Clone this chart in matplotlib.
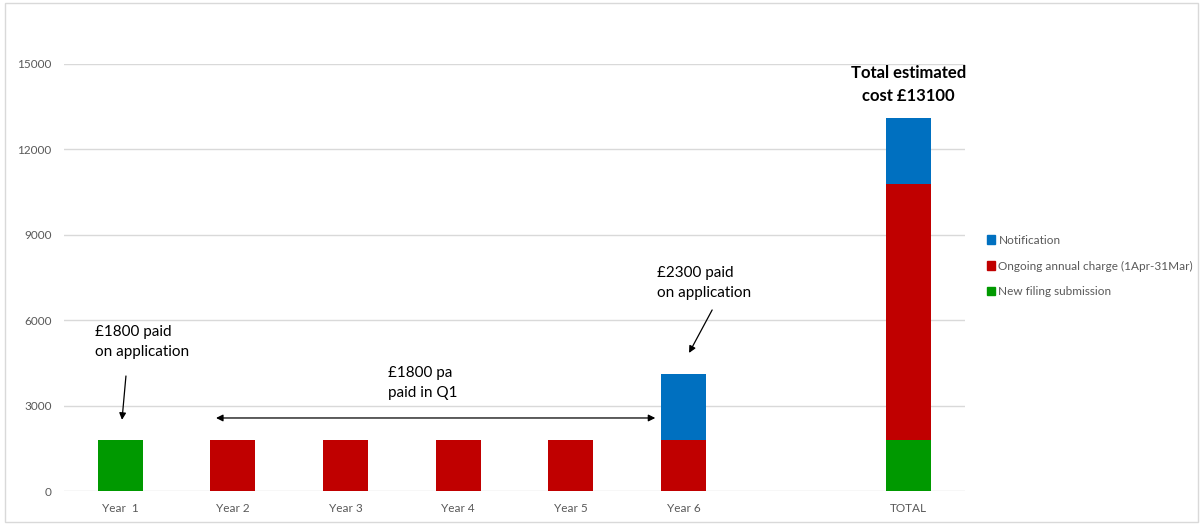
import matplotlib
matplotlib.use("Agg")
import matplotlib.pyplot as plt
from matplotlib.patches import Rectangle, Patch
import numpy as np

plt.rcParams['font.family'] = ['Lato', 'DejaVu Sans']

categories = ["Year  1", "Year 2", "Year 3", "Year 4", "Year 5", "Year 6", "", "TOTAL"]
new_filing = [1800, 0, 0, 0, 0, 0, 0, 1800]
ongoing = [0, 1800, 1800, 1800, 1800, 1800, 0, 9000]
notification = [0, 0, 0, 0, 0, 2300, 0, 2300]
yticks = [0, 3000, 6000, 9000, 12000, 15000]

c_green = "#009900"
c_red = "#C00000"
c_blue = "#0070C0"
grid_c = "#D9D9D9"
tick_c = "#595959"

fig = plt.figure(figsize=(12.03, 5.25), dpi=100)
ax = fig.add_axes([64/1203, 34/525, (965-64)/1203, (491-64)/525])

x = np.arange(len(categories))
nf = np.array(new_filing)
og = np.array(ongoing)
nt = np.array(notification)
w = 0.4
ax.bar(x, nf, w, color=c_green, zorder=3)
ax.bar(x, og, w, bottom=nf, color=c_red, zorder=3)
ax.bar(x, nt, w, bottom=nf + og, color=c_blue, zorder=3)

ax.set_xlim(-0.5, len(categories) - 0.5)
ax.set_ylim(0, 15000)
ax.set_yticks(yticks)
ax.set_yticklabels([str(v) for v in yticks])
ax.set_xticks(x)
ax.set_xticklabels(categories)
ax.yaxis.grid(True, color=grid_c, lw=1, zorder=0)
ax.set_axisbelow(True)
for s in ax.spines.values():
    s.set_visible(False)
ax.tick_params(axis='both', length=0, colors=tick_c, labelsize=8.5)
ax.tick_params(axis='y', pad=9)
ax.tick_params(axis='x', pad=9)

txt_kw = dict(fontsize=11, color='black')
arrow_kw = dict(arrowstyle='-|>', color='black', lw=0.9, mutation_scale=10, shrinkA=0, shrinkB=0)

ax.text(-0.225, 5250, "£1800 paid\non application", ha='left', va='center', linespacing=1.55, **txt_kw)
ax.annotate("", xy=(0.015, 2500), xytext=(0.05, 4040), arrowprops=arrow_kw)

ax.text(2.377, 3780, "£1800 pa\npaid in Q1", ha='left', va='center', linespacing=1.55, **txt_kw)
ax.annotate("", xy=(4.75, 2565), xytext=(0.85, 2565),
            arrowprops=dict(arrowstyle='<|-|>', color='black', lw=0.9, mutation_scale=10, shrinkA=0, shrinkB=0))

ax.text(4.766, 7310, "£2300 paid\non application", ha='left', va='center', linespacing=1.55, **txt_kw)
ax.annotate("", xy=(5.05, 4850), xytext=(5.255, 6360), arrowprops=arrow_kw)

ax.text(7.0, 14270, "Total estimated\ncost £13100", ha='center', va='center', linespacing=1.55,
        fontsize=12, fontweight='bold', color='black')

handles = [Patch(color=c_blue, label="Notification"),
           Patch(color=c_red, label="Ongoing annual charge (1Apr-31Mar)"),
           Patch(color=c_green, label="New filing submission")]
fig.legend(handles=handles, loc='center left', bbox_to_anchor=(976/1203, 1 - 266/525),
           frameon=False, fontsize=8.5, handlelength=0.7, handleheight=0.7,
           handletextpad=0.3, labelspacing=1.25, labelcolor=tick_c)

fig.patches.append(Rectangle((5/1203, 3/525), 1193/1203, 519/525, transform=fig.transFigure,
                             fill=False, edgecolor=grid_c, lw=1))

fig.savefig("out.png", dpi=100)
